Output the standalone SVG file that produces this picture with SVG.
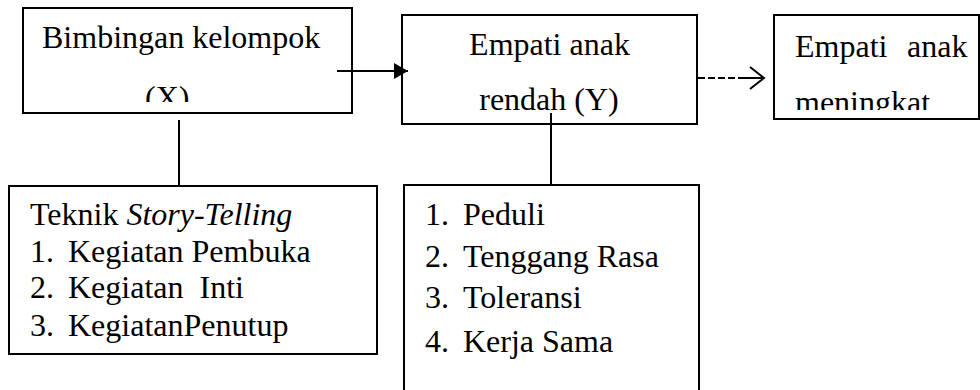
<svg xmlns="http://www.w3.org/2000/svg" width="980" height="390" viewBox="0 0 980 390">
<style>
.box{fill:#fff;stroke:#000;stroke-width:2}
.t{font-family:"Liberation Serif","Times New Roman",serif;font-size:32px;fill:#000}
.ln{stroke:#000;stroke-width:2;fill:none}
</style>
<defs>
<marker id="tri" markerWidth="14" markerHeight="16" refX="14" refY="8" orient="auto" markerUnits="userSpaceOnUse">
<path d="M0,0 L14,8 L0,16 Z" fill="#000"/>
</marker>
<clipPath id="c1"><rect x="23" y="8" width="329" height="94"/></clipPath>
<clipPath id="c4"><rect x="774" y="15" width="206" height="95"/></clipPath>
</defs>
<rect width="980" height="390" fill="#fff"/>
<g id="n1">
<rect class="box" x="23" y="8" width="329" height="105"/>
<text class="t" x="42" y="48">Bimbingan kelompok</text>
<text class="t" x="145" y="108" clip-path="url(#c1)">(X)</text>
</g>
<g id="n2">
<rect class="box" x="402" y="15" width="295" height="109"/>
<text class="t" x="549.5" y="55" text-anchor="middle">Empati anak</text>
<text class="t" x="549" y="110" text-anchor="middle">rendah (Y)</text>
</g>
<g id="n4">
<rect class="box" x="774" y="15" width="205" height="104"/>
<text class="t" x="795" y="57">Empati</text>
<text class="t" x="907" y="57">anak</text>
<text class="t" x="795" y="113" clip-path="url(#c4)">meningkat</text>
</g>
<g id="n3">
<rect class="box" x="9" y="186" width="368" height="168"/>
<text class="t" x="30" y="225">Teknik <tspan font-style="italic">Story-Telling</tspan></text>
<text class="t" x="30" y="262">1.</text><text class="t" x="68" y="262">Kegiatan Pembuka</text>
<text class="t" x="30" y="298">2.</text><text class="t" x="68" y="298" xml:space="preserve">Kegiatan  Inti</text>
<text class="t" x="30" y="336">3.</text><text class="t" x="68" y="336">KegiatanPenutup</text>
</g>
<g id="n5">
<rect class="box" x="404" y="185" width="295" height="215"/>
<text class="t" x="425" y="225">1.</text><text class="t" x="463" y="225">Peduli</text>
<text class="t" x="425" y="267">2.</text><text class="t" x="463" y="267">Tenggang Rasa</text>
<text class="t" x="425" y="308">3.</text><text class="t" x="463" y="308">Toleransi</text>
<text class="t" x="425" y="352">4.</text><text class="t" x="463" y="352">Kerja Sama</text>
</g>
<g id="connectors">
<line class="ln" x1="337" y1="71" x2="408" y2="71" marker-end="url(#tri)"/>
<line class="ln" x1="698" y1="78" x2="735" y2="78" stroke-dasharray="7,3"/>
<line class="ln" x1="738" y1="78" x2="762" y2="78" stroke-width="3"/>
<path class="ln" d="M750,67 L764,78 L750,89" stroke-width="3"/>
<line class="ln" x1="179" y1="120" x2="179" y2="186"/>
<line class="ln" x1="551" y1="113" x2="551" y2="185"/>
</g>
</svg>
